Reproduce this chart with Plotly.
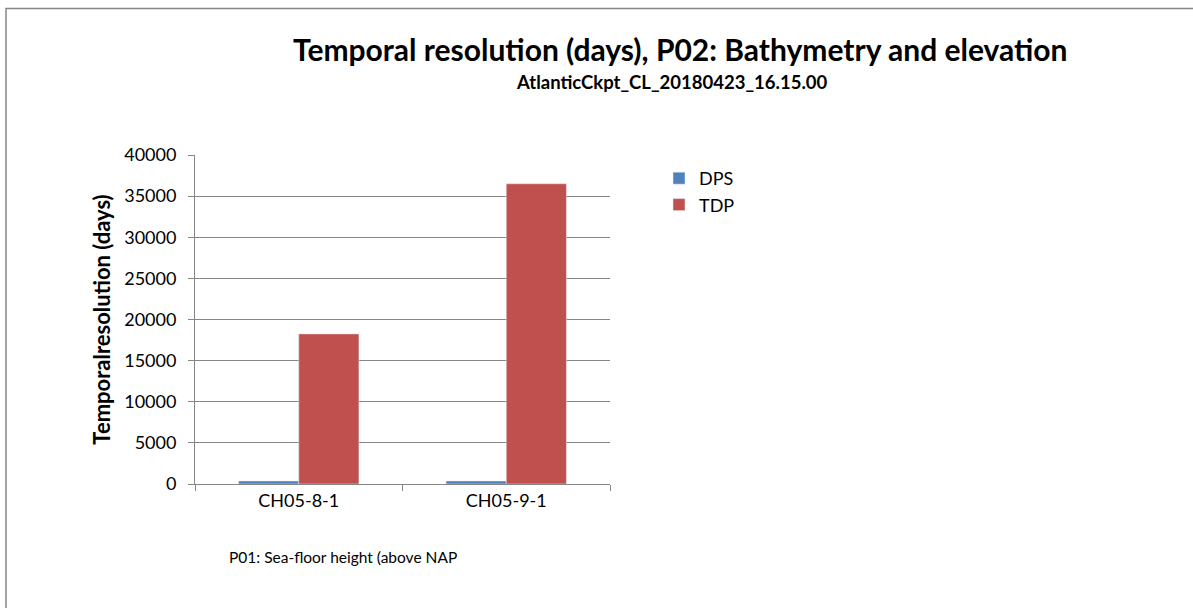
import plotly.graph_objects as go

categories = ["CH05-8-1", "CH05-9-1"]
dps_values = [365, 365]
tdp_values = [18250, 36500]
y_ticks = [0, 5000, 10000, 15000, 20000, 25000, 30000, 35000, 40000]

W, H = 1193, 608
L, R, T, B = 195, 610, 155, 484  # plot area in screen pixels
pw, ph = R - L, B - T

def px(x):
    return (x - L) / pw

def py(y):
    return (B - y) / ph

FONT = "Lato, 'Open Sans', sans-serif"

fig = go.Figure()
fig.add_trace(go.Bar(name="DPS", x=categories, y=dps_values, marker=dict(color="#4F81BD")))
fig.add_trace(go.Bar(name="TDP", x=categories, y=tdp_values, marker=dict(color="#C0504D")))

fig.update_layout(
    width=W, height=H,
    margin=dict(l=L, r=W - R, t=T, b=H - B, autoexpand=False),
    paper_bgcolor="white", plot_bgcolor="white",
    barmode="group", bargap=0.42, bargroupgap=0,
    font=dict(family=FONT, color="black", size=18),
    showlegend=True,
    legend=dict(x=px(659), y=py(160), xanchor="left", yanchor="top",
                font=dict(size=18), itemwidth=30, tracegroupgap=0,
                bgcolor="rgba(0,0,0,0)"),
    xaxis=dict(type="category", showgrid=False, showline=True, linecolor="#868686",
               linewidth=1, ticks="outside", tickson="boundaries", ticklen=6,
               tickcolor="#868686", tickfont=dict(size=18)),
    yaxis=dict(range=[0, 40000], tickvals=y_ticks, tickformat="d", showgrid=True,
               gridcolor="#868686", gridwidth=1, showline=True, linecolor="#868686",
               linewidth=1, ticks="outside", ticklen=6, tickcolor="#868686",
               tickfont=dict(size=18), zeroline=False, ticklabelstandoff=8,
               title=dict(text="<b>Temporalresolution (days)</b>", font=dict(size=22), standoff=7)),
)

fig.add_annotation(text="<b>Temporal resolution (days), P02: Bathymetry and elevation</b>",
                   xref="paper", yref="paper", x=px(680), y=py(49), showarrow=False,
                   xanchor="center", yanchor="middle", font=dict(size=30))
fig.add_annotation(text="<b>AtlanticCkpt_CL_20180423_16.15.00</b>",
                   xref="paper", yref="paper", x=px(672), y=py(82), showarrow=False,
                   xanchor="center", yanchor="middle", font=dict(size=18.5))
fig.add_annotation(text="P01: Sea-floor height (above NAP",
                   xref="paper", yref="paper", x=px(343), y=py(557), showarrow=False,
                   xanchor="center", yanchor="middle", font=dict(size=15.5))

fig.add_shape(type="rect", xref="paper", yref="paper",
              x0=px(6), y0=py(630), x1=px(1220), y1=py(8.5),
              line=dict(color="#868686", width=1.5), fillcolor="rgba(0,0,0,0)", layer="below")

fig.write_html("out.html", config={"displayModeBar": False},
               post_script="document.body.style.margin='0';")
